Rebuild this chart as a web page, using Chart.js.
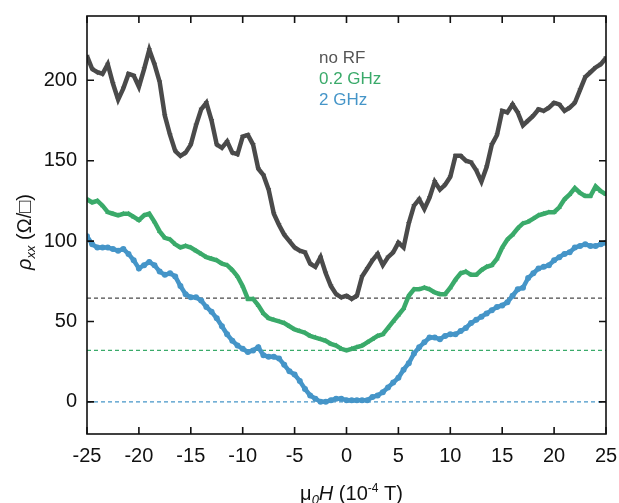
<!DOCTYPE html>
<html>
<head>
<meta charset="utf-8">
<script src="https://cdn.jsdelivr.net/npm/chart.js@4"></script>
<style>
  html, body { margin: 0; padding: 0; background: #fff; }
  #wrap { width: 619px; height: 503px; }
</style>
</head>
<body>
<div id="wrap"><canvas id="c" width="619" height="503"></canvas></div>
<script>
// field values, 10^-4 T
const fieldValues = [];
for (let i = 0; i <= 100; i++) fieldValues.push(-25 + i * 0.5);

// rho_xx, Ohm/sq
const noRF = [215, 207, 205, 204, 210, 198, 188, 195, 204, 203, 196, 207, 219, 210, 199, 178, 166, 156, 153, 155,
  160, 172, 182, 186, 175, 160, 158, 162, 155, 154, 165, 166, 160, 145, 141, 132, 117, 110, 104, 100,
  96, 94, 93, 86, 84, 90, 80, 72, 67, 65, 66, 64, 66, 78, 83, 88, 92, 85, 90, 93,
  99, 96, 111, 122, 126, 120, 127, 137, 132, 135, 140, 153, 153, 150, 149, 144, 137, 146, 160, 166,
  181, 180, 185, 180, 172, 175, 178, 182, 181, 183, 186, 185, 181, 183, 186, 194, 202, 205, 208, 210, 214];
const rf02 = [126, 124, 125, 122, 118, 117, 116, 117, 117, 115, 113, 116, 117, 112, 106, 102, 101, 98, 96, 97,
  96, 94, 92, 90, 89, 88, 86, 85, 82, 78, 72, 64, 64, 60, 55, 52, 51, 50, 49, 47,
  45, 44, 43, 41, 40, 39, 38, 36, 35, 33, 32, 33, 34, 35, 37, 39, 41, 42, 46, 50,
  54, 58, 66, 70, 70, 71, 70, 68, 67, 67, 71, 76, 80, 81, 79, 79, 82, 84, 85, 89,
  96, 101, 104, 108, 111, 112, 114, 116, 117, 118, 118, 121, 126, 129, 133, 130, 128, 128, 134, 131, 129];
const rf2 = [103, 98, 96, 96, 96, 95, 94, 95, 92, 88, 83, 85, 87, 85, 81, 79, 80, 78, 72, 67,
  65, 65, 63, 59, 56, 52, 47, 42, 38, 35, 33, 31, 32, 34, 29, 28, 28, 27, 23, 19,
  17, 13, 8, 4, 2, 0, 0, 1, 2, 2, 1, 1, 1, 1, 1, 3, 4, 6, 9, 12,
  15, 20, 24, 30, 34, 37, 40, 40, 39, 41, 42, 42, 44, 46, 49, 51, 53, 55, 57, 59,
  60, 62, 66, 70, 71, 77, 80, 83, 84, 85, 88, 90, 92, 93, 96, 97, 98, 97, 97, 98, 99];

// zero-field levels (dashed lines)
const baselines = [64.5, 32, 0];

const xTicks = [-25, -20, -15, -10, -5, 0, 5, 10, 15, 20, 25];
const yTicks = [0, 50, 100, 150, 200];

const seriesNames = ['no RF', '0.2 GHz', '2 GHz'];
const GRAY = '#4a4a4a', GREEN = '#3aaa6a', BLUE = '#4595c8';
const colors = [GRAY, GREEN, BLUE];

const toPts = arr => arr.map((v, i) => ({ x: fieldValues[i], y: v }));

const dashed = baselines.map((v, i) => ({
    data: [{ x: xTicks[0], y: v }, { x: xTicks[xTicks.length - 1], y: v }],
    borderColor: colors[i],
    borderWidth: 1.2,
    borderDash: [4, 3],
    pointRadius: 0,
    order: 5
}));

const curves = [noRF, rf02, rf2].map((arr, i) => ({
    label: seriesNames[i],
    data: toPts(arr),
    borderColor: colors[i],
    backgroundColor: colors[i],
    borderWidth: 4.5,
    pointRadius: 3,
    pointBorderWidth: 0,
    pointStyle: i === 2 ? 'circle' : 'triangle',
    rotation: i === 0 ? 180 : 0,
    tension: 0,
    order: 1
}));

// frame, inward ticks, legend text and axis titles
const decor = {
    id: 'decor',
    afterDraw(chart) {
        const { ctx, chartArea: a, scales: { x, y } } = chart;
        ctx.save();
        ctx.strokeStyle = '#111';
        ctx.lineWidth = 1.6;
        ctx.strokeRect(a.left, a.top, a.right - a.left, a.bottom - a.top);
        const tl = 7;
        ctx.beginPath();
        xTicks.forEach(v => {
            const px = x.getPixelForValue(v);
            ctx.moveTo(px, a.bottom); ctx.lineTo(px, a.bottom - tl);
            ctx.moveTo(px, a.top); ctx.lineTo(px, a.top + tl);
        });
        yTicks.forEach(v => {
            const py = y.getPixelForValue(v);
            ctx.moveTo(a.left, py); ctx.lineTo(a.left + tl, py);
            ctx.moveTo(a.right, py); ctx.lineTo(a.right - tl, py);
        });
        ctx.stroke();

        // legend
        ctx.font = '17px "Liberation Sans", Arial, sans-serif';
        ctx.textBaseline = 'alphabetic';
        ctx.textAlign = 'left';
        const legendColors = ['#555', GREEN, BLUE];
        seriesNames.forEach((n, i) => {
            ctx.fillStyle = legendColors[i];
            ctx.fillText(n, 319, 63 + i * 21);
        });

        // x title: mu_0 H (10^-4 T)
        ctx.fillStyle = '#111';
        const parts = [
            ['μ', '20px "Liberation Sans", Arial', 0],
            ['0', 'italic 13px "Liberation Sans", Arial', 4],
            ['H', 'italic 20px "Liberation Sans", Arial', 0],
            [' (10', '20px "Liberation Sans", Arial', 0],
            ['-4', '12px "Liberation Sans", Arial', -8],
            [' T)', '20px "Liberation Sans", Arial', 0]
        ];
        let w = 0;
        parts.forEach(p => { ctx.font = p[1]; w += ctx.measureText(p[0]).width; });
        let cx = (a.left + a.right) / 2 - w / 2 + 5;
        parts.forEach(p => {
            ctx.font = p[1];
            ctx.fillText(p[0], cx, 500 + p[2]);
            cx += ctx.measureText(p[0]).width;
        });

        // y title: rho_xx (Ohm/sq)
        const yparts = [
            ['ρ', 'italic 20px "Liberation Sans", Arial', 0],
            ['xx', 'italic 13px "Liberation Sans", Arial', 4],
            [' (Ω/□)', '20px "Liberation Sans", Arial', 0]
        ];
        w = 0;
        yparts.forEach(p => { ctx.font = p[1]; w += ctx.measureText(p[0]).width; });
        ctx.translate(31, 232);
        ctx.rotate(-Math.PI / 2);
        cx = -w / 2;
        yparts.forEach(p => {
            ctx.font = p[1];
            ctx.fillText(p[0], cx, p[2]);
            cx += ctx.measureText(p[0]).width;
        });
        ctx.restore();
    }
};

new Chart(document.getElementById('c'), {
    type: 'line',
    data: { datasets: [...dashed, ...curves] },
    options: {
        responsive: false,
        animation: false,
        layout: { padding: { left: 0, right: 13, top: 16, bottom: 0 } },
        plugins: { legend: { display: false }, tooltip: { enabled: false } },
        scales: {
            x: {
                type: 'linear',
                min: -25, max: 25,
                afterBuildTicks: s => { s.ticks = xTicks.map(v => ({ value: v })); },
                afterFit: s => { s.height = 69; s.paddingLeft = 0; s.paddingRight = 0; },
                grid: { display: false, drawTicks: false },
                border: { display: false },
                ticks: { color: '#111', padding: 10, maxRotation: 0, font: { size: 20, family: '"Liberation Sans", Arial' } }
            },
            y: {
                min: -20, max: 240,
                afterBuildTicks: s => { s.ticks = yTicks.map(v => ({ value: v })); },
                afterFit: s => { s.width = 87; s.paddingTop = 0; s.paddingBottom = 0; },
                grid: { display: false, drawTicks: false },
                border: { display: false },
                ticks: { color: '#111', padding: 10, font: { size: 20, family: '"Liberation Sans", Arial' } }
            }
        }
    },
    plugins: [decor]
});
</script>
</body>
</html>
